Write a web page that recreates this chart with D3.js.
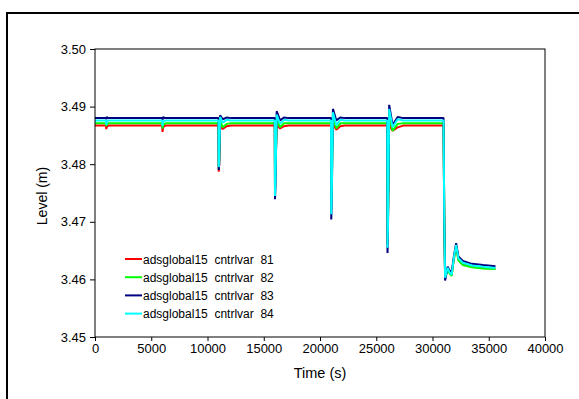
<!DOCTYPE html>
<html>
<head>
<meta charset="utf-8">
<script src="https://cdn.jsdelivr.net/npm/d3@7"></script>
<style>
  body { margin: 0; background: #fff; }
  text { font-family: "Liberation Sans", Arial, sans-serif; }
</style>
</head>
<body>
<svg id="chart" width="579" height="399"></svg>
<script>
// series values: [time (s), level (m)]
let serie81 = [[0,3.4867],[980,3.4867],[1000,3.4861],[1060,3.4865],[1200,3.4867],
  [5980,3.4867],[6000,3.4856],[6060,3.4864],[6250,3.4867],
  [10980,3.4867],[11000,3.4787],[11040,3.4800],[11120,3.4866],[11350,3.4861],[11700,3.4866],[12100,3.4867],
  [15980,3.4867],[16000,3.4770],[16040,3.4790],[16150,3.4868],[16450,3.4862],[16800,3.4866],[17200,3.4867],
  [20980,3.4867],[21000,3.4805],[21040,3.4820],[21150,3.4869],[21450,3.4860],[21800,3.4866],[22200,3.4867],
  [25980,3.4867],[26000,3.4662],[26040,3.4700],[26150,3.4870],[26450,3.4858],[26900,3.4864],[27400,3.4867],
  [30980,3.4867],[31050,3.4700],[31120,3.4605],[31350,3.4618],[31500,3.4612],[31700,3.4607],[31900,3.4636],[32100,3.4658],[32300,3.4635],[32700,3.4627],[33500,3.4622],[34500,3.4620],[35600,3.4619]];

let serie82 = [[0,3.4871],[980,3.4871],[1000,3.4866],[1060,3.4869],[1200,3.4871],
  [5980,3.4871],[6000,3.4862],[6060,3.4868],[6250,3.4871],
  [10980,3.4871],[11000,3.4792],[11040,3.4805],[11120,3.4876],[11350,3.4864],[11700,3.4870],[12100,3.4871],
  [15980,3.4871],[16000,3.4755],[16040,3.4780],[16150,3.4880],[16450,3.4864],[16800,3.4871],[17200,3.4871],
  [20980,3.4871],[21000,3.4730],[21040,3.4760],[21150,3.4882],[21450,3.4862],[21800,3.4871],[22200,3.4871],
  [25980,3.4871],[26000,3.4660],[26040,3.4695],[26150,3.4885],[26450,3.4858],[26900,3.4870],[27400,3.4871],
  [30980,3.4871],[31050,3.4700],[31120,3.4602],[31350,3.4617],[31500,3.4611],[31700,3.4606],[31900,3.4635],[32100,3.4657],[32300,3.4633],[32700,3.4625],[33500,3.4621],[34500,3.4619],[35600,3.4618]];

let serie83 = [[0,3.4880],[980,3.4880],[1000,3.4878],[1040,3.4882],[1150,3.4880],
  [5980,3.4880],[6000,3.4877],[6060,3.4882],[6200,3.4880],
  [10980,3.4880],[11000,3.4790],[11040,3.4800],[11120,3.4885],[11350,3.4878],[11700,3.4881],[12100,3.4880],
  [15980,3.4880],[16000,3.4739],[16040,3.4760],[16150,3.4892],[16450,3.4876],[16800,3.4881],[17200,3.4880],
  [20980,3.4880],[21000,3.4704],[21040,3.4730],[21150,3.4896],[21450,3.4876],[21800,3.4881],[22200,3.4880],
  [25980,3.4880],[26000,3.4646],[26040,3.4680],[26150,3.4903],[26450,3.4868],[26900,3.4882],[27400,3.4880],
  [30980,3.4880],[31050,3.4700],[31120,3.4598],[31350,3.4622],[31500,3.4616],[31700,3.4612],[31900,3.4640],[32100,3.4663],[32300,3.4640],[32700,3.4632],[33500,3.4627],[34500,3.4625],[35600,3.4623]];

let serie84 = [[0,3.4876],[980,3.4876],[1000,3.4868],[1060,3.4874],[1200,3.4876],
  [5980,3.4876],[6000,3.4866],[6060,3.4874],[6250,3.4876],
  [10980,3.4876],[11000,3.4795],[11040,3.4810],[11120,3.4882],[11350,3.4872],[11700,3.4877],[12100,3.4876],
  [15980,3.4876],[16000,3.4745],[16040,3.4770],[16150,3.4886],[16450,3.4870],[16800,3.4877],[17200,3.4876],
  [20980,3.4876],[21000,3.4713],[21040,3.4740],[21150,3.4890],[21450,3.4868],[21800,3.4877],[22200,3.4876],
  [25980,3.4876],[26000,3.4655],[26040,3.4690],[26150,3.4896],[26450,3.4864],[26900,3.4878],[27400,3.4876],
  [30980,3.4876],[31050,3.4700],[31120,3.4603],[31350,3.4620],[31500,3.4613],[31700,3.4608],[31900,3.4638],[32100,3.4660],[32300,3.4637],[32700,3.4629],[33500,3.4624],[34500,3.4622],[35600,3.4620]];

let nombres = ["adsglobal15  cntrlvar  81","adsglobal15  cntrlvar  82",
               "adsglobal15  cntrlvar  83","adsglobal15  cntrlvar  84"];
let colores = ["#ff0000","#00ff00","#000080","#00ffff"];
let xticks = [0,5000,10000,15000,20000,25000,30000,35000,40000];
let yticks = [3.45,3.46,3.47,3.48,3.49,3.50];

let series = [serie81,serie82,serie83,serie84];

let margin = {top:49, left:95, width:450, height:288};
let svg = d3.select("#chart");

// outer frame
svg.append("rect")
    .attr("x",7).attr("y",13)
    .attr("width",600).attr("height",420)
    .style("fill","none").style("stroke","black").style("stroke-width",2);

let xscale = d3.scaleLinear().domain([0,40000]).range([0,margin.width]);
let yscale = d3.scaleLinear().domain([3.45,3.50]).range([margin.height,0]);

let g = svg.append("g").attr("transform","translate(" + margin.left + "," + margin.top + ")");

let linea = d3.line().x(d => xscale(d[0])).y(d => yscale(d[1]));

g.selectAll(".serie")
    .data(series)
    .enter()
    .append("path")
    .attr("class","serie")
    .attr("d",d => linea(d))
    .style("fill","none")
    .style("stroke",(d,i) => colores[i])
    .style("stroke-width",2)
    .style("stroke-linejoin","bevel");

// plot border
g.append("rect")
    .attr("x",0).attr("y",0)
    .attr("width",margin.width).attr("height",margin.height)
    .style("fill","none").style("stroke","black").style("stroke-width",1);

let xaxis = g.append("g")
    .attr("transform","translate(0," + margin.height + ")")
    .call(d3.axisBottom(xscale).tickValues(xticks).tickFormat(d3.format("d")).tickSize(4).tickPadding(3));

let yaxis = g.append("g")
    .call(d3.axisLeft(yscale).tickValues(yticks).tickFormat(d3.format(".2f")).tickSize(5).tickPadding(4));

[xaxis,yaxis].forEach(ax => {
    ax.select(".domain").remove();
    ax.selectAll("line").style("stroke","black");
    ax.selectAll("text")
        .style("font-family","'Liberation Sans', Arial, sans-serif")
        .style("font-size","13px")
        .style("fill","black");
});

g.append("text")
    .attr("x",margin.width/2)
    .attr("y",margin.height + 41)
    .text("Time (s)")
    .style("text-anchor","middle")
    .style("font-size","14.5px");

g.append("text")
    .attr("transform","translate(-48," + (margin.height/2 + 3) + ") rotate(-90)")
    .text("Level (m)")
    .style("text-anchor","middle")
    .style("font-size","14px");

// legend
let leyenda = g.selectAll(".ley")
    .data(nombres)
    .enter()
    .append("g")
    .attr("class","ley")
    .attr("transform",(d,i) => "translate(30," + (210 + i*18.2) + ")");

leyenda.append("line")
    .attr("x1",0).attr("x2",17)
    .attr("y1",0).attr("y2",0)
    .style("stroke",(d,i) => colores[i])
    .style("stroke-width",2);

leyenda.append("text")
    .attr("x",18)
    .attr("y",4.5)
    .text(d => d)
    .style("white-space","pre")
    .style("font-size","12px");
</script>
</body>
</html>
